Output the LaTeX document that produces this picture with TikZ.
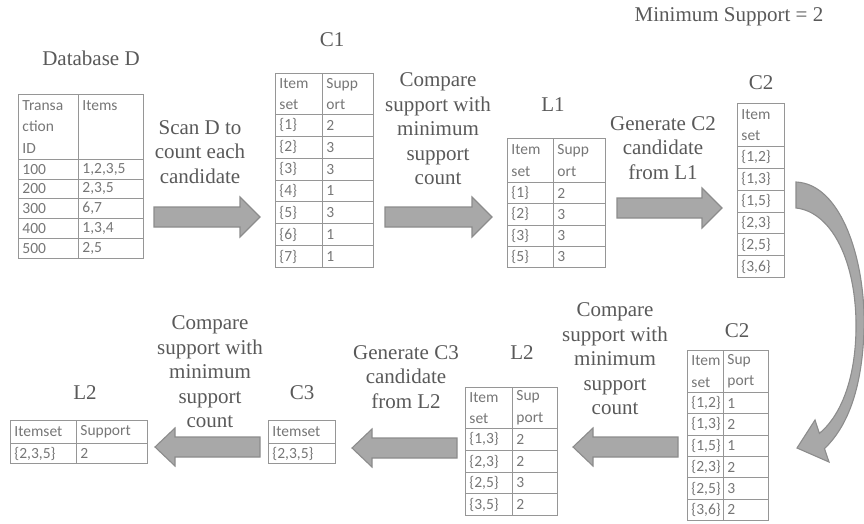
\documentclass[tikz,border=0pt]{standalone}
\usepackage{fontspec}
\newfontfamily\lblfont{Liberation Serif}
\newfontfamily\tfont{Carlito}
\usetikzlibrary{calc}
\definecolor{lblc}{RGB}{89,89,89}
\definecolor{tline}{RGB}{150,150,150}
\definecolor{ttext}{RGB}{118,118,118}
\definecolor{afill}{RGB}{168,168,168}
\definecolor{adraw}{RGB}{140,140,140}
\tikzset{
  lbl/.style={text=lblc,font=\lblfont\fontsize{21}{24.5}\selectfont,inner sep=0pt,align=center},
  tcell/.style={draw=tline,line width=0.9pt,anchor=north west,inner xsep=4pt,inner ysep=0pt,
    align=left,text=ttext,font=\tfont\fontsize{15.5}{21.5}\selectfont},
  blockarrow/.style={fill=afill,draw=adraw,line width=1.1pt,line join=miter}
}
\newcommand\tc[6]{%
  \pgfmathsetmacro\tcw{#4-#2}%
  \pgfmathsetmacro\tch{#5-#3}%
  \pgfmathsetmacro\tct{#4-#2-8}%
  \node[tcell,minimum width=\tcw pt,minimum height=\tch pt,text width=\tct pt] (#1) at (#2,#3) {#6};}
\newcommand\barrowR[2]{\filldraw[blockarrow] ($(#1)+(0,-10)$) -- ($(#2)+(-20,-10)$) -- ($(#2)+(-20,-20)$) -- (#2) -- ($(#2)+(-20,20)$) -- ($(#2)+(-20,10)$) -- ($(#1)+(0,10)$) -- cycle;}
\newcommand\barrowL[2]{\filldraw[blockarrow] ($(#1)+(0,-10)$) -- ($(#2)+(20,-10)$) -- ($(#2)+(20,-19)$) -- (#2) -- ($(#2)+(20,19)$) -- ($(#2)+(20,10)$) -- ($(#1)+(0,10)$) -- cycle;}
\begin{document}
\begin{tikzpicture}[x=1pt,y=-1pt]
\path[use as bounding box] (0,0) rectangle (864,524);

% ---------- labels ----------
\node[lbl] (minsup) at (729,17) {Minimum Support = 2};
\node[lbl] (tDB) at (91,58) {Database D};
\node[lbl] (tC1) at (332,40) {C1};
\node[lbl] (tL1) at (553,105) {L1};
\node[lbl] (tC2) at (761,83) {C2};
\node[lbl] (tC2b) at (737,331) {C2};
\node[lbl] (tL2) at (522,353) {L2};
\node[lbl] (tC3) at (302,393) {C3};
\node[lbl] (tL2f) at (85,393) {L2};

\node[lbl] (s1) at (200,152) {Scan D to\\count each\\candidate};
\node[lbl] (s2) at (438,129) {Compare\\support with\\minimum\\support\\count};
\node[lbl] (s3) at (663,148) {Generate C2\\candidate\\from L1};
\node[lbl] (s4) at (615,359) {Compare\\support with\\minimum\\support\\count};
\node[lbl] (s5) at (406,377) {Generate C3\\candidate\\from L2};
\node[lbl] (s6) at (210,372) {Compare\\support with\\minimum\\support\\count};

% ---------- Database D ----------
\tc{D11}{18}{94}{78}{159}{Transa\\ction\\ID}
\tc{D12}{78}{94}{143}{159}{Items\\~\\~}
\tc{D21}{18}{159}{78}{179}{100}  \tc{D22}{78}{159}{143}{179}{1,2,3,5}
\tc{D31}{18}{179}{78}{198}{200}  \tc{D32}{78}{179}{143}{198}{2,3,5}
\tc{D41}{18}{198}{78}{218}{300}  \tc{D42}{78}{198}{143}{218}{6,7}
\tc{D51}{18}{218}{78}{238}{400}  \tc{D52}{78}{218}{143}{238}{1,3,4}
\tc{D61}{18}{238}{78}{258}{500}  \tc{D62}{78}{238}{143}{258}{2,5}

% ---------- C1 ----------
\tc{Ca11}{275}{73}{322}{114}{Item\\set} \tc{Ca12}{322}{73}{373}{114}{Supp\\ort}
\tc{Ca21}{275}{114}{322}{135.9}{\{1\}} \tc{Ca22}{322}{114}{373}{135.9}{2}
\tc{Ca31}{275}{135.9}{322}{157.7}{\{2\}} \tc{Ca32}{322}{135.9}{373}{157.7}{3}
\tc{Ca41}{275}{157.7}{322}{179.6}{\{3\}} \tc{Ca42}{322}{157.7}{373}{179.6}{3}
\tc{Ca51}{275}{179.6}{322}{201.4}{\{4\}} \tc{Ca52}{322}{179.6}{373}{201.4}{1}
\tc{Ca61}{275}{201.4}{322}{223.3}{\{5\}} \tc{Ca62}{322}{201.4}{373}{223.3}{3}
\tc{Ca71}{275}{223.3}{322}{245.1}{\{6\}} \tc{Ca72}{322}{223.3}{373}{245.1}{1}
\tc{Ca81}{275}{245.1}{322}{267}{\{7\}} \tc{Ca82}{322}{245.1}{373}{267}{1}

% ---------- L1 ----------
\tc{La11}{507}{138}{553}{182}{Item\\set} \tc{La12}{553}{138}{605}{182}{Supp\\ort}
\tc{La21}{507}{182}{553}{203.25}{\{1\}} \tc{La22}{553}{182}{605}{203.25}{2}
\tc{La31}{507}{203.25}{553}{224.5}{\{2\}} \tc{La32}{553}{203.25}{605}{224.5}{3}
\tc{La41}{507}{224.5}{553}{245.75}{\{3\}} \tc{La42}{553}{224.5}{605}{245.75}{3}
\tc{La51}{507}{245.75}{553}{267}{\{5\}} \tc{La52}{553}{245.75}{605}{267}{3}

% ---------- C2 (top) ----------
\tc{Cb1}{737}{103}{784}{146}{Item\\set}
\tc{Cb2}{737}{146}{784}{167.8}{\{1,2\}}
\tc{Cb3}{737}{167.8}{784}{189.7}{\{1,3\}}
\tc{Cb4}{737}{189.7}{784}{211.5}{\{1,5\}}
\tc{Cb5}{737}{211.5}{784}{233.3}{\{2,3\}}
\tc{Cb6}{737}{233.3}{784}{255.2}{\{2,5\}}
\tc{Cb7}{737}{255.2}{784}{277}{\{3,6\}}

% ---------- C2 (lower) ----------
\tc{Cc11}{687}{350}{723}{392}{Item\\set} \tc{Cc12}{723}{350}{768}{392}{Sup\\port}
\tc{Cc21}{687}{392}{723}{413.3}{\{1,2\}} \tc{Cc22}{723}{392}{768}{413.3}{1}
\tc{Cc31}{687}{413.3}{723}{434.7}{\{1,3\}} \tc{Cc32}{723}{413.3}{768}{434.7}{2}
\tc{Cc41}{687}{434.7}{723}{456}{\{1,5\}} \tc{Cc42}{723}{434.7}{768}{456}{1}
\tc{Cc51}{687}{456}{723}{477.3}{\{2,3\}} \tc{Cc52}{723}{456}{768}{477.3}{2}
\tc{Cc61}{687}{477.3}{723}{498.7}{\{2,5\}} \tc{Cc62}{723}{477.3}{768}{498.7}{3}
\tc{Cc71}{687}{498.7}{723}{520}{\{3,6\}} \tc{Cc72}{723}{498.7}{768}{520}{2}

% ---------- L2 (middle) ----------
\tc{Lb11}{465}{387}{512}{428}{Item\\set} \tc{Lb12}{512}{387}{557}{428}{Sup\\port}
\tc{Lb21}{465}{428}{512}{450}{\{1,3\}} \tc{Lb22}{512}{428}{557}{450}{2}
\tc{Lb31}{465}{450}{512}{472}{\{2,3\}} \tc{Lb32}{512}{450}{557}{472}{2}
\tc{Lb41}{465}{472}{512}{493}{\{2,5\}} \tc{Lb42}{512}{472}{557}{493}{3}
\tc{Lb51}{465}{493}{512}{515}{\{3,5\}} \tc{Lb52}{512}{493}{557}{515}{2}

% ---------- C3 ----------
\tc{Cd1}{268}{420}{335}{443}{Itemset}
\tc{Cd2}{268}{443}{335}{463}{\{2,3,5\}}

% ---------- L2 (final) ----------
\tc{Lc11}{10}{420}{76}{443}{Itemset} \tc{Lc12}{76}{420}{147}{443}{Support}
\tc{Lc21}{10}{443}{76}{463}{\{2,3,5\}} \tc{Lc22}{76}{443}{147}{463}{2}

% ---------- block arrows ----------
\coordinate (a1s) at (154,217); \coordinate (a1t) at (260,217);
\coordinate (a2s) at (385,217); \coordinate (a2t) at (492,217);
\coordinate (a3s) at (617,208); \coordinate (a3t) at (722,208);
\coordinate (a4s) at (678,447); \coordinate (a4t) at (573,447);
\coordinate (a5s) at (457,448); \coordinate (a5t) at (352,448);
\coordinate (a6s) at (260,447); \coordinate (a6t) at (155,447);
\barrowR{a1s}{a1t}
\barrowR{a2s}{a2t}
\barrowR{a3s}{a3t}
\barrowL{a4s}{a4t}
\barrowL{a5s}{a5t}
\barrowL{a6s}{a6t}

% ---------- curved arrow ----------
\filldraw[blockarrow] (796,182) .. controls (842,184) and (866,262) .. (864,330)
  .. controls (862,392) and (846,428) .. (824.5,448.6)
  -- (829,462) -- (797,448) -- (815,420) -- (819.4,433.4)
  .. controls (838,418) and (855,385) .. (856,330)
  .. controls (857,262) and (832,212) .. (796,208) -- cycle;
\end{tikzpicture}
\end{document}
